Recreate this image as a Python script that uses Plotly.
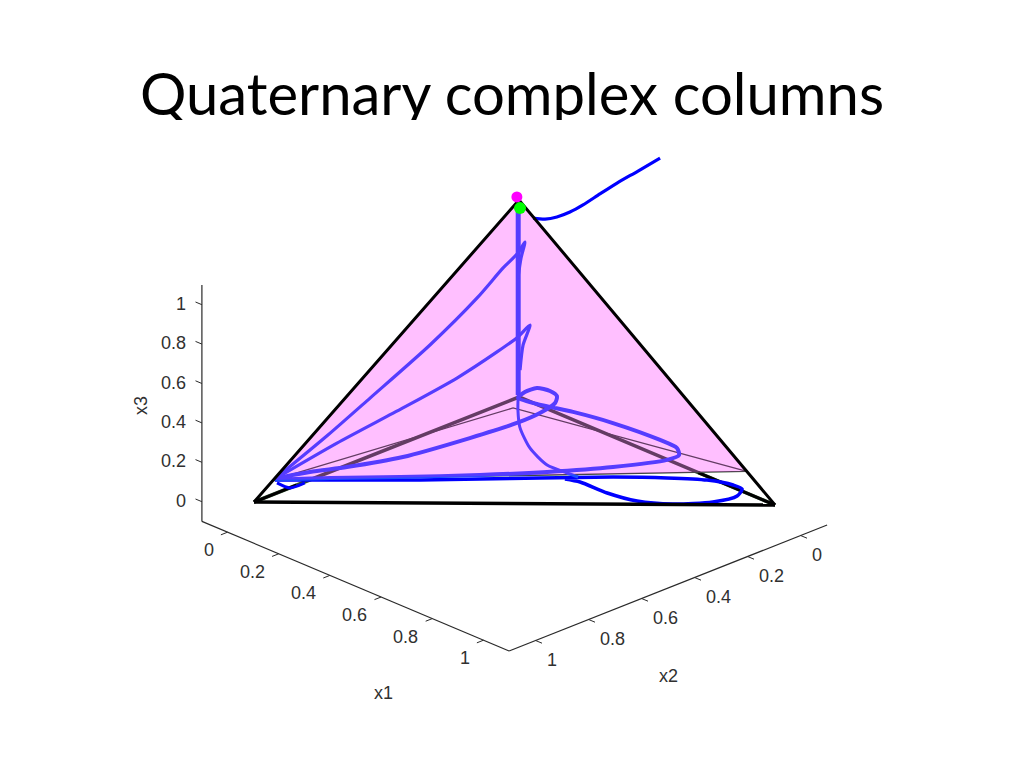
import plotly.graph_objects as go

TITLE = "Quaternary complex columns"
TICKS = [0, 0.2, 0.4, 0.6, 0.8, 1]
TICK_LABELS = ["0", "0.2", "0.4", "0.6", "0.8", "1"]
AXIS_LIMITS = [-0.1, 1.1]

# composition data: (x1, x2, x3)
TIP_LEFT = (0, 0.927, 0.073)
TIP_RIGHT = (0.89, 0, 0.11)
INNER = (0.041, 0.062, 0)

OUTSIDE_X1 = [0.551, 0.465, 0.383, 0.316, 0.25, 0.199, 0.148, 0.102, 0.055]
OUTSIDE_X2 = [0, 0, 0, 0, 0, 0, 0, 0, 0]
OUTSIDE_X3 = [1.515, 1.402, 1.296, 1.204, 1.112, 1.048, 0.995, 0.959, 0.938]

VERT_X1 = [0, 0, 0]
VERT_X2 = [0.003, 0.003, 0.003]
VERT_X3 = [0.961, 0.494, 0.012]

TAIL_X1 = [0, 0.06, 0.145, 0.264, 0.378, 0.454, 0.494]
TAIL_X2 = [0.003, 0.062, 0.137, 0.214, 0.259, 0.257, 0.254]
TAIL_X3 = [0.012, 0, 0, 0, 0, 0, 0]

LOOP_X1 = [0.019, 0.161, 0.294, 0.402, 0.511, 0.645, 0.751, 0.837, 0.91, 0.946, 0.97, 0.953, 0.887, 0.805, 0.71, 0.606, 0.563]
LOOP_X2 = [0.94, 0.794, 0.657, 0.536, 0.415, 0.268, 0.167, 0.099, 0.071, 0.072, 0.114, 0.189, 0.276, 0.332, 0.353, 0.355, 0.3705]
LOOP_X3 = [0.09] * 17

HOOK_X1 = [0.037, 0.086, 0.09]
HOOK_X2 = [0.949, 0.947, 0.895]
HOOK_X3 = [0.09, 0.09, 0.09]

SPIRAL_X1 = [0, 0, 0.009, 0.067, 0.103, 0.12, 0.116, 0.141, 0.148, 0.121, 0.07, 0.023, 0.003, 0.07, 0.121, 0.211, 0.367, 0.551, 0.617, 0.625, 0.665, 0.597, 0.496, 0.383, 0.242, 0.114, 0]
SPIRAL_X2 = [0.921, 0.789, 0.658, 0.503, 0.285, 0.124, 0.033, 0, 0, 0, 0, 0, 0.006, 0, 0, 0, 0, 0, 0, 0, 0.084, 0.222, 0.373, 0.518, 0.682, 0.823, 0.921]
SPIRAL_X3 = [0.075, 0.04, 0, 0, 0, 0, 0, 0.047, 0.086, 0.097, 0.084, 0.038, 0, 0.003, 0.016, 0.04, 0.069, 0.084, 0.079, 0.048, 0.09, 0.09, 0.09, 0.09, 0.09, 0.09, 0.075]

RAY1_X1 = [0, 0, 0, 0, 0, 0, 0, 0.023, 0.008, 0]
RAY1_X2 = [0.921, 0.721, 0.562, 0.336, 0.158, 0.06, 0.004, 0, 0, 0.004]
RAY1_X3 = [0.075, 0.191, 0.294, 0.443, 0.587, 0.687, 0.733, 0.799, 0.71, 0.606]

RAY2_X1 = [0, 0, 0, 0, 0, 0, 0.043, 0.016, 0.004]
RAY2_X2 = [0.921, 0.687, 0.438, 0.234, 0.083, 0.004, 0, 0, 0]
RAY2_X3 = [0.075, 0.132, 0.178, 0.221, 0.273, 0.307, 0.389, 0.273, 0.139]

MAGENTA_POINT = (0, 0.008, 1.02)
GREEN_POINT = (0.004, 0, 0.961)

ORIGIN = (519, 397)
E1 = (256, 108)
E2 = (-265, 105)
E3 = (0, -197)


def proj(a, b, c):
    return (ORIGIN[0] + a * E1[0] + b * E2[0] + c * E3[0],
            ORIGIN[1] + a * E1[1] + b * E2[1] + c * E3[1])


def projs(x1, x2, x3):
    pts = [proj(a, b, c) for a, b, c in zip(x1, x2, x3)]
    return [p[0] for p in pts], [p[1] for p in pts]


fig = go.Figure()


def line(x1, x2, x3, color, width, shape="linear", **kw):
    sx, sy = projs(x1, x2, x3)
    fig.add_trace(go.Scatter(x=sx, y=sy, mode="lines", hoverinfo="skip",
                             line=dict(color=color, width=width, shape=shape, smoothing=0.7), **kw))


AX = "#2a2a2a"
lo, hi = AXIS_LIMITS
# box axes
line([lo, hi], [hi, hi], [lo, lo], AX, 1.2)
line([hi, hi], [lo, hi], [lo, lo], AX, 1.2)
line([lo, lo], [hi, hi], [lo, hi], AX, 1.2)
TICK_LEN = 0.025
for t in TICKS:
    line([t, t], [hi, hi + TICK_LEN], [lo, lo], AX, 1)
    line([hi, hi + TICK_LEN], [t, t], [lo, lo], AX, 1)
    line([lo, lo - TICK_LEN], [hi, hi], [t, t], AX, 1)

# edges behind the pink plane (colours shift once the plane covers them)
UNDER_BLACK = "#305030"
UNDER_BLUE = "#1c50ff"
line([0, 0, 1], [1, 0, 0], [0, 0, 0], UNDER_BLACK, 3.5)
line([0, 0], [1, 0.84], [0, 0], "#000000", 3)
line([1, 0.7], [0, 0], [0, 0], "#000000", 3)
tri = [TIP_LEFT, INNER, TIP_RIGHT, TIP_LEFT]
line([p[0] for p in tri], [p[1] for p in tri], [p[2] for p in tri], UNDER_BLACK, 1.3)

# blue trajectories
line(LOOP_X1, LOOP_X2, LOOP_X3, "#0000ff", 3.5, "spline")
line(HOOK_X1, HOOK_X2, HOOK_X3, "#0000ff", 3, "spline")
line(VERT_X1, VERT_X2, VERT_X3, UNDER_BLUE, 5)
line(TAIL_X1, TAIL_X2, TAIL_X3, UNDER_BLUE, 3, "spline")
line(SPIRAL_X1, SPIRAL_X2, SPIRAL_X3, UNDER_BLUE, 4, "spline")
line(RAY1_X1, RAY1_X2, RAY1_X3, UNDER_BLUE, 3.2, "spline")
line(RAY2_X1, RAY2_X2, RAY2_X3, UNDER_BLUE, 3.2, "spline")
line(OUTSIDE_X1, OUTSIDE_X2, OUTSIDE_X3, "#0000ff", 3.2, "spline")

# translucent plane
plane = [(0, 0, 1), TIP_LEFT, TIP_RIGHT, (0, 0, 1)]
sx, sy = projs([p[0] for p in plane], [p[1] for p in plane], [p[2] for p in plane])
fig.add_trace(go.Scatter(x=sx, y=sy, mode="lines", fill="toself", hoverinfo="skip",
                         fillcolor="rgba(255,0,255,0.25)", line=dict(width=0)))

# outer edges
line([0, 0, 1], [1, 0, 0], [0, 1, 0], "#000000", 3)
line([0, 1], [1, 0], [0, 0], "#000000", 3.5)

# end points
for pt, col, size in ((MAGENTA_POINT, "#ff00ff", 11), (GREEN_POINT, "#00ff00", 12)):
    px, py = proj(*pt)
    fig.add_trace(go.Scatter(x=[px], y=[py], mode="markers", hoverinfo="skip",
                             marker=dict(color=col, size=size, line=dict(width=0))))

# title, clipped by its own small plot area
fig.add_trace(go.Scatter(x=[512], y=[100], mode="text", text=[TITLE], textposition="middle center",
                         textfont=dict(family="Lato", size=58, color="#000000"),
                         xaxis="x2", yaxis="y2", cliponaxis=True, hoverinfo="skip"))

FONT = dict(family="Liberation Sans", size=18, color="#303030")
ann = []
for t, lab in zip(TICKS, TICK_LABELS):
    px, py = proj(t, hi, lo)
    ann.append(dict(x=px - 12, y=py + 18, text=lab, xanchor="right", yanchor="middle"))
    px, py = proj(hi, t, lo)
    ann.append(dict(x=px + 9, y=py + 19, text=lab, xanchor="left", yanchor="middle"))
    px, py = proj(lo, hi, t)
    ann.append(dict(x=px - 14, y=py - 1, text=lab, xanchor="right", yanchor="middle"))
for name, pos, extra in (("x1", proj(1.062, 1.539, lo), {}), ("x2", proj(1.52, 0.906, lo), {}),
                         ("x3", proj(lo - 0.238, hi, 0.36), {"textangle": -90})):
    ann.append(dict(x=pos[0], y=pos[1], text=name, xanchor="center", yanchor="middle", **extra))
for a in ann:
    a.update(xref="x", yref="y", showarrow=False, font=FONT)

fig.update_layout(
    width=1024, height=768, margin=dict(l=0, r=0, t=0, b=0), showlegend=False,
    paper_bgcolor="white", plot_bgcolor="rgba(0,0,0,0)", annotations=ann,
    xaxis=dict(range=[0, 1024], visible=False, fixedrange=True),
    yaxis=dict(range=[768, 0], visible=False, fixedrange=True),
    xaxis2=dict(range=[0, 1024], visible=False, domain=[0, 1], anchor="y2", fixedrange=True),
    yaxis2=dict(range=[120, 0], visible=False, domain=[648 / 768, 1], anchor="x2", fixedrange=True),
)
fig.write_html("out.html", config={"displayModeBar": False},
               post_script="document.body.style.margin='0';document.body.style.overflow='hidden';")
